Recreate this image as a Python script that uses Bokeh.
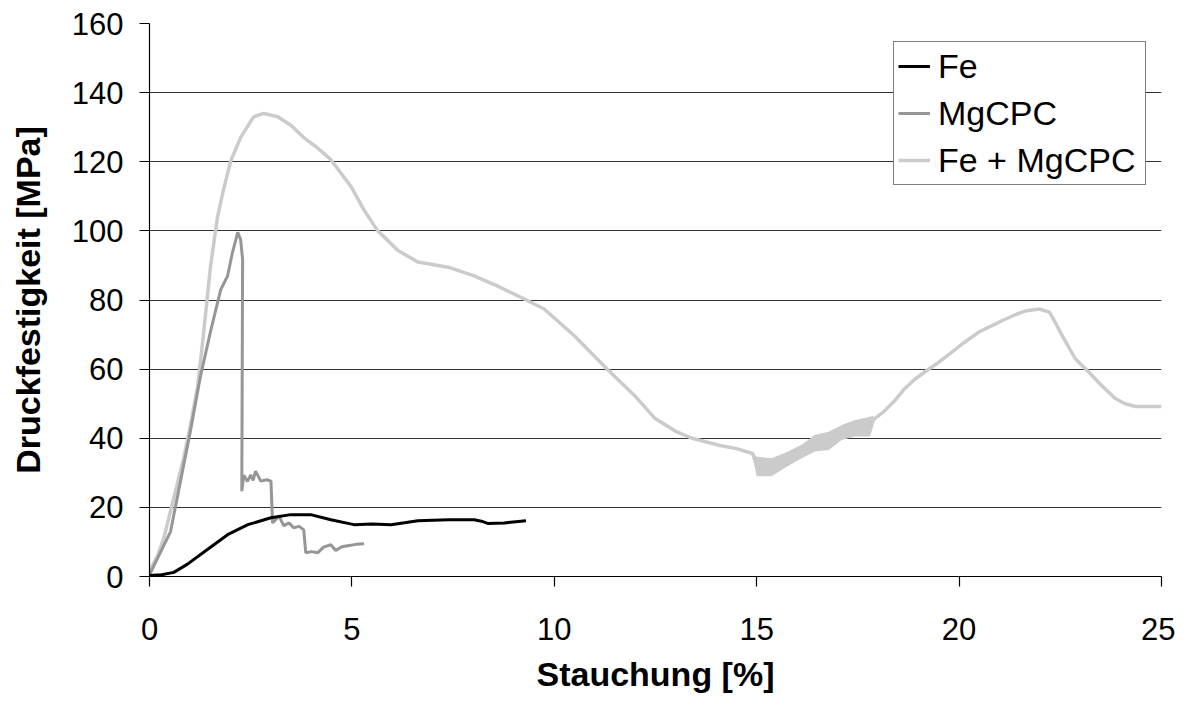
from bokeh.plotting import figure
from bokeh.models import Range1d, FixedTicker, Legend
from bokeh.embed import file_html
from bokeh.resources import INLINE

# ---------------- data ----------------
fe_x = [0, 0.3, 0.6, 0.93, 1.43, 1.93, 2.43, 3.0, 3.49, 3.98, 4.48, 5.05, 5.5,
        5.97, 6.63, 7.38, 8.02, 8.2, 8.37, 8.76, 9.3]
fe_y = [0.3, 0.5, 1.2, 3.5, 7.8, 12.1, 15.0, 17.0, 17.9, 17.9, 16.4, 15.0, 15.2,
        15.0, 16.1, 16.4, 16.4, 16.0, 15.3, 15.5, 16.1]

mg_x = [0, 0.52, 0.84, 1.01, 1.26, 1.51, 1.76, 1.93, 2.05, 2.18, 2.25, 2.30,
        2.28, 2.33, 2.42, 2.5, 2.56, 2.62, 2.75, 2.9, 3.0, 3.04, 3.12, 3.2,
        3.26, 3.32, 3.45, 3.56, 3.7, 3.81, 3.86, 4.0, 4.16, 4.3, 4.48, 4.6,
        4.75, 4.9, 5.1, 5.3]
mg_y = [0.5, 13, 32, 42, 58, 71, 83, 87, 93.8, 99.6, 97.5, 91.8,
        24.7, 29.3, 27.5, 29.4, 27.8, 30.5, 27.6, 28.0, 27.6, 15.5, 16.5, 17.6,
        16.0, 14.7, 15.5, 14.1, 14.5, 13.5, 6.9, 7.2, 6.9, 8.5, 9.2, 7.5,
        8.6, 8.9, 9.3, 9.5]

femg_x = [0, 0.2, 0.35, 0.6, 0.84, 1.01, 1.19, 1.34, 1.51, 1.68, 1.81, 2.0,
          2.25, 2.57, 2.82, 3.17, 3.5, 3.81, 4.15, 4.48, 4.98, 5.3, 5.64, 6.14,
          6.63, 7.38, 8.02, 8.6, 9.26, 9.75, 10.5, 11.34, 11.98, 12.48, 13.0,
          13.4, 14.06, 14.5, 14.9, 15.0, 15.37, 15.69, 16.11, 16.44, 16.78,
          17.1, 17.43, 17.8, 17.9, 18.14, 18.42, 18.66, 18.9, 19.26, 19.5,
          19.83, 20.1, 20.5, 20.8, 21.06, 21.4, 21.63, 21.98, 22.23, 22.4,
          22.55, 22.87, 23.2, 23.5, 23.86, 24.1, 24.36, 25.0]
femg_y = [1.5, 6, 11, 22.7, 34, 43.7, 55, 70.8, 90, 104, 111, 120,
          127, 133, 134, 133, 130.5, 127, 124, 120.6, 112.8, 106, 100, 94.3,
          91, 89.5, 87, 84, 80.3, 77.4, 69.6, 59.6, 52.4, 45.8, 42,
          40, 38, 37, 35.6, 32.0, 31.6, 33.5, 36.1, 38.6, 39.2,
          41.6, 42.9, 43.3, 45.5, 47.7, 51.0, 54.4, 57, 60.1, 62,
          65, 67.5, 70.8, 72.5, 74, 75.8, 76.8, 77.4, 76.5, 73,
          69.6, 63, 59.2, 55.5, 51.5, 50, 49.2, 49.2]

# measurement scatter band of "Fe + MgCPC" (outer edges of the noisy trace)
band_x = [14.92, 15.0, 15.37, 15.69, 16.11, 16.44, 16.78, 17.1, 17.43, 17.8, 17.88]
band_lo = [33.5, 29.0, 29.0, 31.4, 34.2, 36.2, 36.6, 39.5, 40.5, 40.5, 43.5]
band_hi = [35.5, 34.7, 34.2, 35.7, 38.1, 41.0, 41.9, 43.8, 45.3, 46.2, 46.5]

x_ticks = [0, 5, 10, 15, 20, 25]
y_ticks = [0, 20, 40, 60, 80, 100, 120, 140, 160]
series_names = ["Fe", "MgCPC", "Fe + MgCPC"]
series_colors = ["#000000", "#969696", "#cbcbcb"]

FONT = "Liberation Sans"

p = figure(width=1175, height=695, output_backend="svg", toolbar_location=None,
           x_range=Range1d(0, 25), y_range=Range1d(0, 160),
           min_border_left=149, min_border_right=14, min_border_top=23,
           min_border_bottom=116)
p.outline_line_color = None
p.background_fill_color = "white"
p.border_fill_color = "white"

p.varea(x=band_x, y1=band_lo, y2=band_hi, fill_color=series_colors[2])
r_fe = p.line(fe_x, fe_y, line_color=series_colors[0], line_width=3)
r_mg = p.line(mg_x, mg_y, line_color=series_colors[1], line_width=3)
r_fm = p.line(femg_x, femg_y, line_color=series_colors[2], line_width=3.5)
# keep draw order: light curve behind the others
p.renderers = [p.renderers[0], r_fm, r_mg, r_fe]

# axes
p.xaxis.ticker = FixedTicker(ticks=x_ticks)
p.yaxis.ticker = FixedTicker(ticks=y_ticks)
for ax in (p.xaxis[0], p.yaxis[0]):
    ax.axis_line_color = "#000000"
    ax.axis_line_width = 1.2
    ax.major_tick_line_color = "#000000"
    ax.major_tick_line_width = 1.2
    ax.major_tick_in = 0
    ax.major_tick_out = 10
    ax.minor_tick_line_color = None
    ax.major_label_text_font = FONT
    ax.major_label_text_font_size = "31px"
    ax.major_label_text_color = "#000000"
    ax.axis_label_text_font = FONT
    ax.axis_label_text_font_size = "34px"
    ax.axis_label_text_font_style = "bold"
    ax.axis_label_text_color = "#000000"

p.xaxis.axis_label = "Stauchung [%]"
p.yaxis.axis_label = "Druckfestigkeit [MPa]"
p.xaxis.major_label_standoff = 31
p.xaxis.axis_label_standoff = 12
p.yaxis.major_label_standoff = 16
p.yaxis.axis_label_standoff = 22

p.xgrid.grid_line_color = None
p.ygrid.grid_line_color = "#333333"
p.ygrid.grid_line_width = 1.2

legend = Legend(items=[(series_names[0], [r_fe]),
                       (series_names[1], [r_mg]),
                       (series_names[2], [r_fm])],
                location=(744, 391))
legend.label_text_font = FONT
legend.label_text_font_size = "34px"
legend.label_text_color = "#000000"
legend.border_line_color = "#000000"
legend.border_line_width = 1.2
legend.background_fill_color = "white"
legend.background_fill_alpha = 1.0
legend.glyph_width = 32
legend.glyph_height = 40
legend.label_height = 40
legend.label_width = 203
legend.label_standoff = 8
legend.spacing = 7
legend.padding = 4
legend.margin = 0
p.add_layout(legend, "center")

open("out.html", "w").write(file_html(p, INLINE))
